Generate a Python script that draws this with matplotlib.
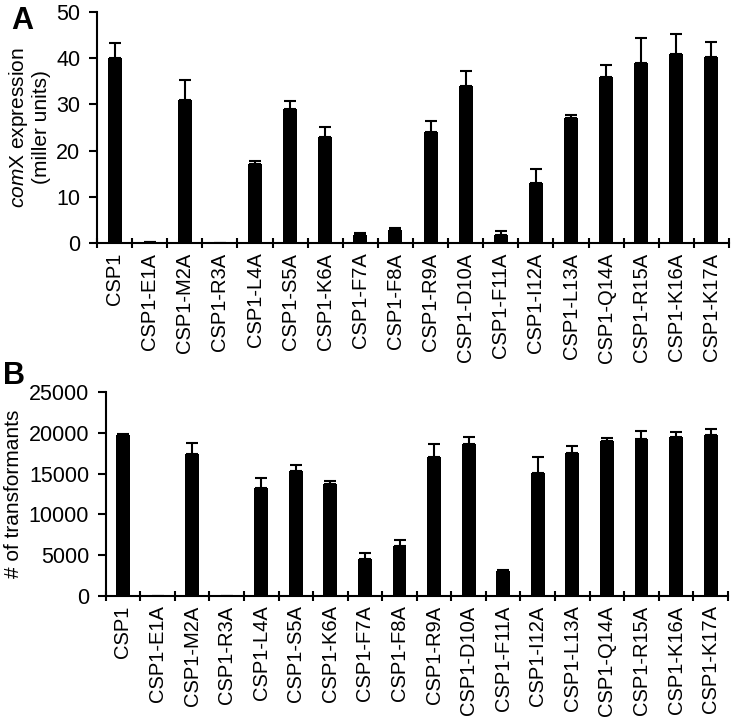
import numpy as np
import matplotlib
matplotlib.use("Agg")
import matplotlib.pyplot as plt

plt.rcParams["font.family"] = ["Liberation Sans", "DejaVu Sans"]
plt.rcParams["mathtext.fontset"] = "custom"
plt.rcParams["mathtext.it"] = "Liberation Sans:italic"
plt.rcParams["mathtext.rm"] = "Liberation Sans"

labels = ["CSP1", "CSP1-E1A", "CSP1-M2A", "CSP1-R3A", "CSP1-L4A", "CSP1-S5A",
          "CSP1-K6A", "CSP1-F7A", "CSP1-F8A", "CSP1-R9A", "CSP1-D10A", "CSP1-F11A",
          "CSP1-I12A", "CSP1-L13A", "CSP1-Q14A", "CSP1-R15A", "CSP1-K16A", "CSP1-K17A"]

# panel A: comX expression (miller units)
comx_mean = [40, 0.2, 31, 0, 17, 29, 23, 1.8, 2.8, 24, 34, 1.8, 13, 27, 36, 39, 41, 40.2]
comx_err = [3.3, 0.1, 4.2, 0, 0.8, 1.8, 2.2, 0.3, 0.5, 2.4, 3.2, 0.7, 3.1, 0.7, 2.5, 5.3, 4.3, 3.4]

# panel B: number of transformants
trans_mean = [19700, 0, 17400, 0, 13250, 15300, 13700, 4480, 6100, 17100, 18600, 3050,
              15100, 17600, 19050, 19300, 19480, 19750]
trans_err = [200, 0, 1350, 0, 1250, 750, 400, 800, 700, 1600, 950, 120,
             2000, 750, 330, 1000, 650, 780]

fig = plt.figure(figsize=(7.36, 7.22), dpi=100)
axA = fig.add_axes([0.1318, 0.6634, 0.8587, 0.32])
axB = fig.add_axes([0.1436, 0.1749, 0.8454, 0.2817])


def draw_panel(ax, mean, err, ymax, ystep):
    x = np.arange(len(labels))
    mean = np.array(mean, dtype=float)
    err = np.array(err, dtype=float)
    ax.bar(x, mean, width=0.4, color="black", zorder=2)
    ax.errorbar(x, mean, yerr=[np.zeros_like(err), err], fmt="none",
                ecolor="black", elinewidth=1.5, capsize=4, capthick=1.5, zorder=3)
    ax.set_xlim(-0.5, len(labels) - 0.5)
    ax.set_ylim(0, ymax)
    ax.set_yticks(np.arange(0, ymax + 1, ystep))
    ax.set_xticks(x)
    ax.set_xticklabels(labels, rotation=90, fontsize=14.5)
    ax.set_xticks(np.arange(-0.5, len(labels)), minor=True)
    ax.tick_params(axis="x", which="major", length=0, pad=7)
    ax.tick_params(axis="x", which="minor", length=7, width=1.5, direction="inout")
    ax.tick_params(axis="y", length=6, width=1.5, direction="out", labelsize=15.5, pad=6)
    for s in ["top", "right"]:
        ax.spines[s].set_visible(False)
    for s in ["left", "bottom"]:
        ax.spines[s].set_linewidth(1.5)


draw_panel(axA, comx_mean, comx_err, 50, 10)
axA.set_ylabel("$\\it{com}$X expression\n(miller units)", fontsize=15, linespacing=1.1,
               labelpad=4)

draw_panel(axB, trans_mean, trans_err, 25000, 5000)
axB.set_ylabel("# of transformants", fontsize=15, labelpad=4)

fig.text(0.015, 0.96, "A", fontsize=22, fontweight="bold")
fig.text(0.004, 0.468, "B", fontsize=22, fontweight="bold")

fig.savefig("out.png", dpi=100)
